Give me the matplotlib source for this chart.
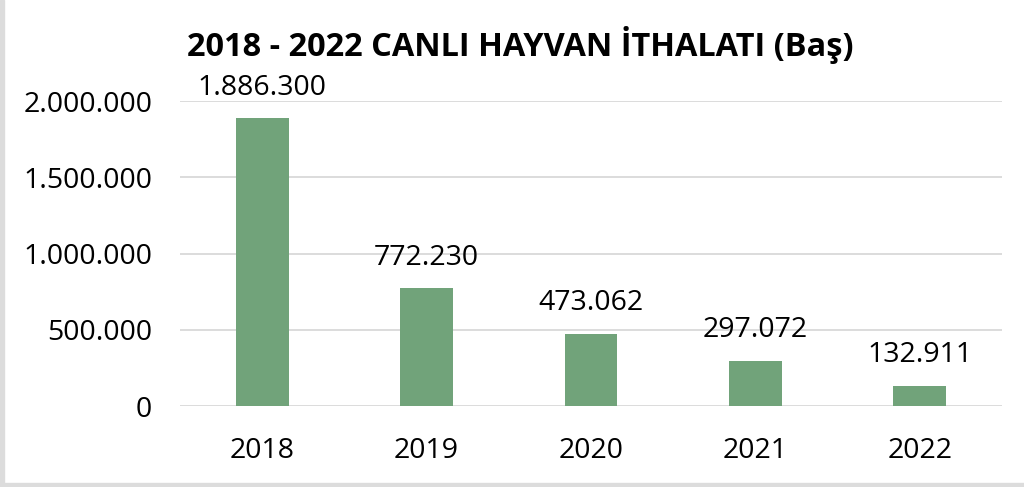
import matplotlib.pyplot as plt
from matplotlib.patches import Rectangle

# yearly live animal imports (head)
years = ["2018", "2019", "2020", "2021", "2022"]
heads = [1886300, 772230, 473062, 297072, 132911]
y_ticks = [0, 500000, 1000000, 1500000, 2000000]

bar_color = "#71A37A"
grid_color = "#D9D9D9"


def tr_fmt(v):
    # thousands separated with dots
    return f"{int(v):,}".replace(",", ".")


plt.rcParams["font.family"] = ["Open Sans", "DejaVu Sans"]

fig = plt.figure(figsize=(10.24, 4.87), dpi=100)
ax = fig.add_axes([0.1758, 0.1663, 0.8027, 0.6263])

x = range(len(years))
bars = ax.bar(x, heads, width=0.32, color=bar_color, zorder=3)

ax.set_xlim(-0.5, len(years) - 0.5)
ax.set_ylim(0, 2000000)
ax.set_yticks(y_ticks)
ax.set_yticklabels([tr_fmt(t) for t in y_ticks], fontsize=20.5)
ax.set_xticks(list(x))
ax.set_xticklabels(years, fontsize=20.5)
ax.tick_params(axis="both", length=0)
ax.tick_params(axis="x", pad=22)
ax.tick_params(axis="y", pad=20)

ax.yaxis.grid(True, color=grid_color, linewidth=1.3, zorder=0)
for s in ax.spines.values():
    s.set_visible(False)

for b, v in zip(bars, heads):
    ax.annotate(tr_fmt(v), (b.get_x() + b.get_width() / 2, v),
                xytext=(0, 12), textcoords="offset points",
                ha="center", va="bottom", fontsize=20.5, annotation_clip=False)

fig.text(0.508, 0.907, "2018 - 2022 CANLI HAYVAN İTHALATI (Baş)",
         ha="center", va="center", fontsize=23.4, fontweight="bold")

# thin grey frame strips on the left and bottom edges
fig.patches.append(Rectangle((0, 0), 4 / 1024, 1, transform=fig.transFigure,
                             color="#DCDCDC", zorder=0))
fig.patches.append(Rectangle((0, 0), 1, 4 / 487, transform=fig.transFigure,
                             color="#DCDCDC", zorder=0))

fig.savefig("out.png", dpi=100)
